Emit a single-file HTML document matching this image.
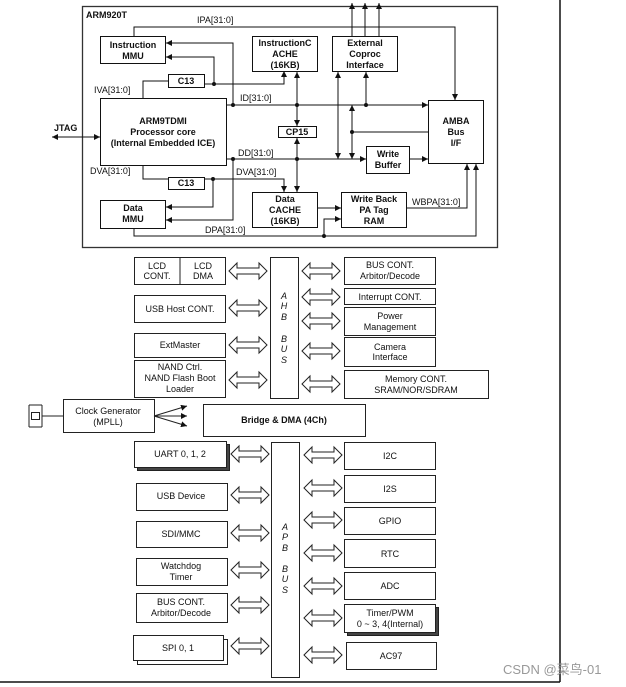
<!DOCTYPE html>
<html><head><meta charset="utf-8"><style>
html,body{margin:0;padding:0;background:#fff;width:626px;height:687px;overflow:hidden}
svg{display:block}
text{font-family:"Liberation Sans",Arial,sans-serif;font-size:9px;fill:#111}
.b{font-weight:bold}
</style></head><body>
<svg width="626" height="687" viewBox="0 0 626 687">
<defs>
<marker id="a" viewBox="0 0 10 10" refX="10" refY="5" markerWidth="6" markerHeight="6" orient="auto-start-reverse"><path d="M0,0 L10,5 L0,10 z" fill="#111"/></marker>
<path id="da" d="M0,8 L8,0 L8,5 L30,5 L30,0 L38,8 L30,16 L30,11 L8,11 L8,16 Z" fill="#fff" stroke="#222" stroke-width="1"/>
</defs>
<g fill="none" stroke="#111" stroke-width="1">
<line x1="560" y1="0" x2="560" y2="682" stroke-width="1.5"/>
<line x1="0" y1="682" x2="560" y2="682" stroke-width="1.5"/>
<rect x="82.5" y="6.5" width="415" height="241" stroke="#333" stroke-width="1.3"/>
<rect x="100.5" y="36.5" width="65" height="27"/>
<rect x="252.5" y="36.5" width="65" height="35"/>
<rect x="332.5" y="36.5" width="65" height="35"/>
<rect x="168.5" y="74.5" width="36" height="13"/>
<rect x="100.5" y="98.5" width="126" height="67"/>
<rect x="278.5" y="126.5" width="38" height="11"/>
<rect x="428.5" y="100.5" width="55" height="63"/>
<rect x="366.5" y="146.5" width="43" height="27"/>
<rect x="168.5" y="177.5" width="36" height="12"/>
<rect x="100.5" y="200.5" width="65" height="28"/>
<rect x="252.5" y="192.5" width="65" height="35"/>
<rect x="341.5" y="192.5" width="65" height="35"/>
<polyline points="134,36 134,27 455,27 455,100" marker-end="url(#a)"/>
<line x1="352" y1="36" x2="352" y2="3" marker-end="url(#a)"/>
<line x1="365" y1="36" x2="365" y2="3" marker-end="url(#a)"/>
<line x1="379" y1="36" x2="379" y2="3" marker-end="url(#a)"/>
<line x1="226" y1="105" x2="428" y2="105" marker-end="url(#a)"/>
<line x1="226" y1="159" x2="366" y2="159" marker-end="url(#a)"/>
<polyline points="233,105 233,43 166,43" marker-end="url(#a)"/>
<polyline points="214,84 214,57 166,57" marker-end="url(#a)"/>
<polyline points="204,84 284,84 284,71" marker-end="url(#a)"/>
<polyline points="168,81 143,81 143,98"/>
<line x1="297" y1="72" x2="297" y2="126" marker-start="url(#a)" marker-end="url(#a)"/>
<line x1="297" y1="138" x2="297" y2="192" marker-start="url(#a)" marker-end="url(#a)"/>
<line x1="338" y1="72" x2="338" y2="159" marker-start="url(#a)" marker-end="url(#a)"/>
<line x1="366" y1="72" x2="366" y2="105" marker-start="url(#a)"/>
<line x1="352" y1="105" x2="352" y2="159" marker-start="url(#a)" marker-end="url(#a)"/>
<line x1="352" y1="132" x2="428" y2="132"/>
<line x1="409" y1="159" x2="428" y2="159" marker-end="url(#a)"/>
<polyline points="233,159 233,220 166,220" marker-end="url(#a)"/>
<polyline points="143,165 143,179 168,179"/>
<polyline points="204,179 284,179 284,192" marker-end="url(#a)"/>
<polyline points="213,179 213,207 166,207" marker-end="url(#a)"/>
<line x1="317" y1="208" x2="341" y2="208" marker-end="url(#a)"/>
<polyline points="134,228 134,236 476,236 476,164" marker-end="url(#a)"/>
<polyline points="324,236 324,219 341,219" marker-end="url(#a)"/>
<polyline points="406,208 467,208 467,164" marker-end="url(#a)"/>
<line x1="52" y1="137" x2="100" y2="137" marker-start="url(#a)" marker-end="url(#a)"/>
</g>
<g fill="#111">
<circle cx="214" cy="84" r="2"/><circle cx="233" cy="105" r="2"/><circle cx="297" cy="105" r="2"/><circle cx="366" cy="105" r="2"/>
<circle cx="352" cy="132" r="2"/><circle cx="233" cy="159" r="2"/><circle cx="297" cy="159" r="2"/><circle cx="213" cy="179" r="2"/><circle cx="324" cy="236" r="2"/>
</g>
<g text-anchor="middle">
<text x="133" y="48" class="b">Instruction</text><text x="133" y="59" class="b">MMU</text>
<text x="285" y="46" class="b">InstructionC</text><text x="285" y="57" class="b">ACHE</text><text x="285" y="68" class="b">(16KB)</text>
<text x="365" y="46" class="b">External</text><text x="365" y="57" class="b">Coproc</text><text x="365" y="68" class="b">Interface</text>
<text x="186" y="84" class="b">C13</text>
<text x="163" y="124" class="b">ARM9TDMI</text><text x="163" y="135" class="b">Processor core</text><text x="163" y="146" class="b">(Internal Embedded ICE)</text>
<text x="297" y="135" class="b">CP15</text>
<text x="456" y="124" class="b">AMBA</text><text x="456" y="135" class="b">Bus</text><text x="456" y="146" class="b">I/F</text>
<text x="388" y="157" class="b">Write</text><text x="388" y="168" class="b">Buffer</text>
<text x="186" y="186" class="b">C13</text>
<text x="133" y="211" class="b">Data</text><text x="133" y="222" class="b">MMU</text>
<text x="285" y="202" class="b">Data</text><text x="285" y="213" class="b">CACHE</text><text x="285" y="224" class="b">(16KB)</text>
<text x="374" y="202" class="b">Write Back</text><text x="374" y="213" class="b">PA Tag</text><text x="374" y="224" class="b">RAM</text>
</g>
<text x="86" y="18" class="b">ARM920T</text>
<text x="197" y="23">IPA[31:0]</text>
<text x="94" y="93">IVA[31:0]</text>
<text x="240" y="101">ID[31:0]</text>
<text x="238" y="156">DD[31:0]</text>
<text x="90" y="174">DVA[31:0]</text>
<text x="236" y="175">DVA[31:0]</text>
<text x="412" y="205">WBPA[31:0]</text>
<text x="205" y="233">DPA[31:0]</text>
<text x="54" y="131" class="b">JTAG</text>

<g fill="#fff" stroke="#222" stroke-width="1">
<rect x="134.5" y="257.5" width="91" height="27"/><line x1="180" y1="257" x2="180" y2="285"/>
<rect x="134.5" y="295.5" width="91" height="27"/>
<rect x="134.5" y="333.5" width="91" height="24"/>
<rect x="134.5" y="360.5" width="91" height="37"/>
<rect x="270.5" y="257.5" width="28" height="141"/>
<rect x="344.5" y="257.5" width="91" height="27"/>
<rect x="344.5" y="288.5" width="91" height="16"/>
<rect x="344.5" y="307.5" width="91" height="28"/>
<rect x="344.5" y="337.5" width="91" height="29"/>
<rect x="344.5" y="370.5" width="144" height="28"/>
<rect x="63.5" y="399.5" width="91" height="33"/>
<rect x="203.5" y="404.5" width="162" height="32"/>
<rect x="271.5" y="442.5" width="28" height="235"/>
<rect x="137.5" y="444.5" width="92" height="26" fill="#444"/><rect x="134.5" y="441.5" width="92" height="26"/>
<rect x="136.5" y="483.5" width="91" height="27"/>
<rect x="136.5" y="521.5" width="91" height="26"/>
<rect x="136.5" y="558.5" width="91" height="27"/>
<rect x="136.5" y="593.5" width="91" height="29"/>
<rect x="137.5" y="639.5" width="90" height="25"/><rect x="133.5" y="635.5" width="90" height="25"/>
<rect x="344.5" y="442.5" width="91" height="27"/>
<rect x="344.5" y="475.5" width="91" height="27"/>
<rect x="344.5" y="507.5" width="91" height="27"/>
<rect x="344.5" y="539.5" width="91" height="28"/>
<rect x="344.5" y="572.5" width="91" height="27"/>
<rect x="347.5" y="607.5" width="91" height="28" fill="#444"/><rect x="344.5" y="604.5" width="91" height="28"/>
<rect x="346.5" y="642.5" width="90" height="27"/>
</g>
<g fill="none" stroke="#222">
<line x1="42" y1="416" x2="63" y2="416"/><line x1="29" y1="405" x2="29" y2="427"/><line x1="42" y1="405" x2="42" y2="427"/>
<line x1="29" y1="405" x2="42" y2="405"/><line x1="29" y1="427" x2="42" y2="427"/>
<rect x="31.5" y="412.5" width="8" height="7"/>
<line x1="154" y1="416" x2="187" y2="406" marker-end="url(#a)"/>
<line x1="154" y1="416" x2="187" y2="416" marker-end="url(#a)"/>
<line x1="154" y1="416" x2="187" y2="426" marker-end="url(#a)"/>
</g>
<g>
<use href="#da" x="229" y="263"/><use href="#da" x="302" y="263"/>
<use href="#da" x="229" y="300"/><use href="#da" x="302" y="289"/>
<use href="#da" x="229" y="337"/><use href="#da" x="302" y="313"/>
<use href="#da" x="229" y="372"/><use href="#da" x="302" y="343"/>
<use href="#da" x="302" y="376"/>
<use href="#da" x="231" y="446"/><use href="#da" x="304" y="447"/>
<use href="#da" x="231" y="487"/><use href="#da" x="304" y="480"/>
<use href="#da" x="231" y="525"/><use href="#da" x="304" y="512"/>
<use href="#da" x="231" y="562"/><use href="#da" x="304" y="545"/>
<use href="#da" x="231" y="597"/><use href="#da" x="304" y="578"/>
<use href="#da" x="231" y="638"/><use href="#da" x="304" y="610"/>
<use href="#da" x="304" y="647"/>
</g>
<g text-anchor="middle">
<text x="157" y="269">LCD</text><text x="157" y="279">CONT.</text>
<text x="203" y="269">LCD</text><text x="203" y="279">DMA</text>
<text x="180" y="312">USB Host CONT.</text>
<text x="180" y="348">ExtMaster</text>
<text x="180" y="370">NAND Ctrl.</text><text x="180" y="381">NAND Flash Boot</text><text x="180" y="392">Loader</text>
<text x="390" y="268">BUS CONT.</text><text x="390" y="279">Arbitor/Decode</text>
<text x="390" y="300">Interrupt CONT.</text>
<text x="390" y="319">Power</text><text x="390" y="330">Management</text>
<text x="390" y="350">Camera</text><text x="390" y="360">Interface</text>
<text x="416" y="382">Memory CONT.</text><text x="416" y="393">SRAM/NOR/SDRAM</text>
<text x="108" y="414">Clock Generator</text><text x="108" y="425">(MPLL)</text>
<text x="284" y="423" class="b">Bridge &amp; DMA (4Ch)</text>
<text x="180" y="457">UART 0, 1, 2</text>
<text x="181" y="499">USB Device</text>
<text x="181" y="537">SDI/MMC</text>
<text x="181" y="569">Watchdog</text><text x="181" y="580">Timer</text>
<text x="181" y="605">BUS CONT.</text><text x="181" y="616">Arbitor/Decode</text>
<text x="178" y="651">SPI 0, 1</text>
<text x="390" y="459">I2C</text>
<text x="390" y="492">I2S</text>
<text x="390" y="524">GPIO</text>
<text x="390" y="557">RTC</text>
<text x="390" y="589">ADC</text>
<text x="390" y="616">Timer/PWM</text><text x="390" y="627">0 ~ 3, 4(Internal)</text>
<text x="391" y="659">AC97</text>
</g>
<g text-anchor="middle">
<text x="284" y="299" font-style="italic">A</text><text x="284" y="309" font-style="italic">H</text><text x="284" y="320" font-style="italic">B</text>
<text x="284" y="342" font-style="italic">B</text><text x="284" y="352" font-style="italic">U</text><text x="284" y="363" font-style="italic">S</text>
<text x="285" y="530" font-style="italic">A</text><text x="285" y="540" font-style="italic">P</text><text x="285" y="551" font-style="italic">B</text>
<text x="285" y="572" font-style="italic">B</text><text x="285" y="582" font-style="italic">U</text><text x="285" y="593" font-style="italic">S</text>
</g>
<text x="503" y="674" style="font-size:13px;fill:#999;font-family:'Liberation Sans','Noto Sans CJK SC',sans-serif">CSDN @菜鸟-01</text>
</svg>
</body></html>
